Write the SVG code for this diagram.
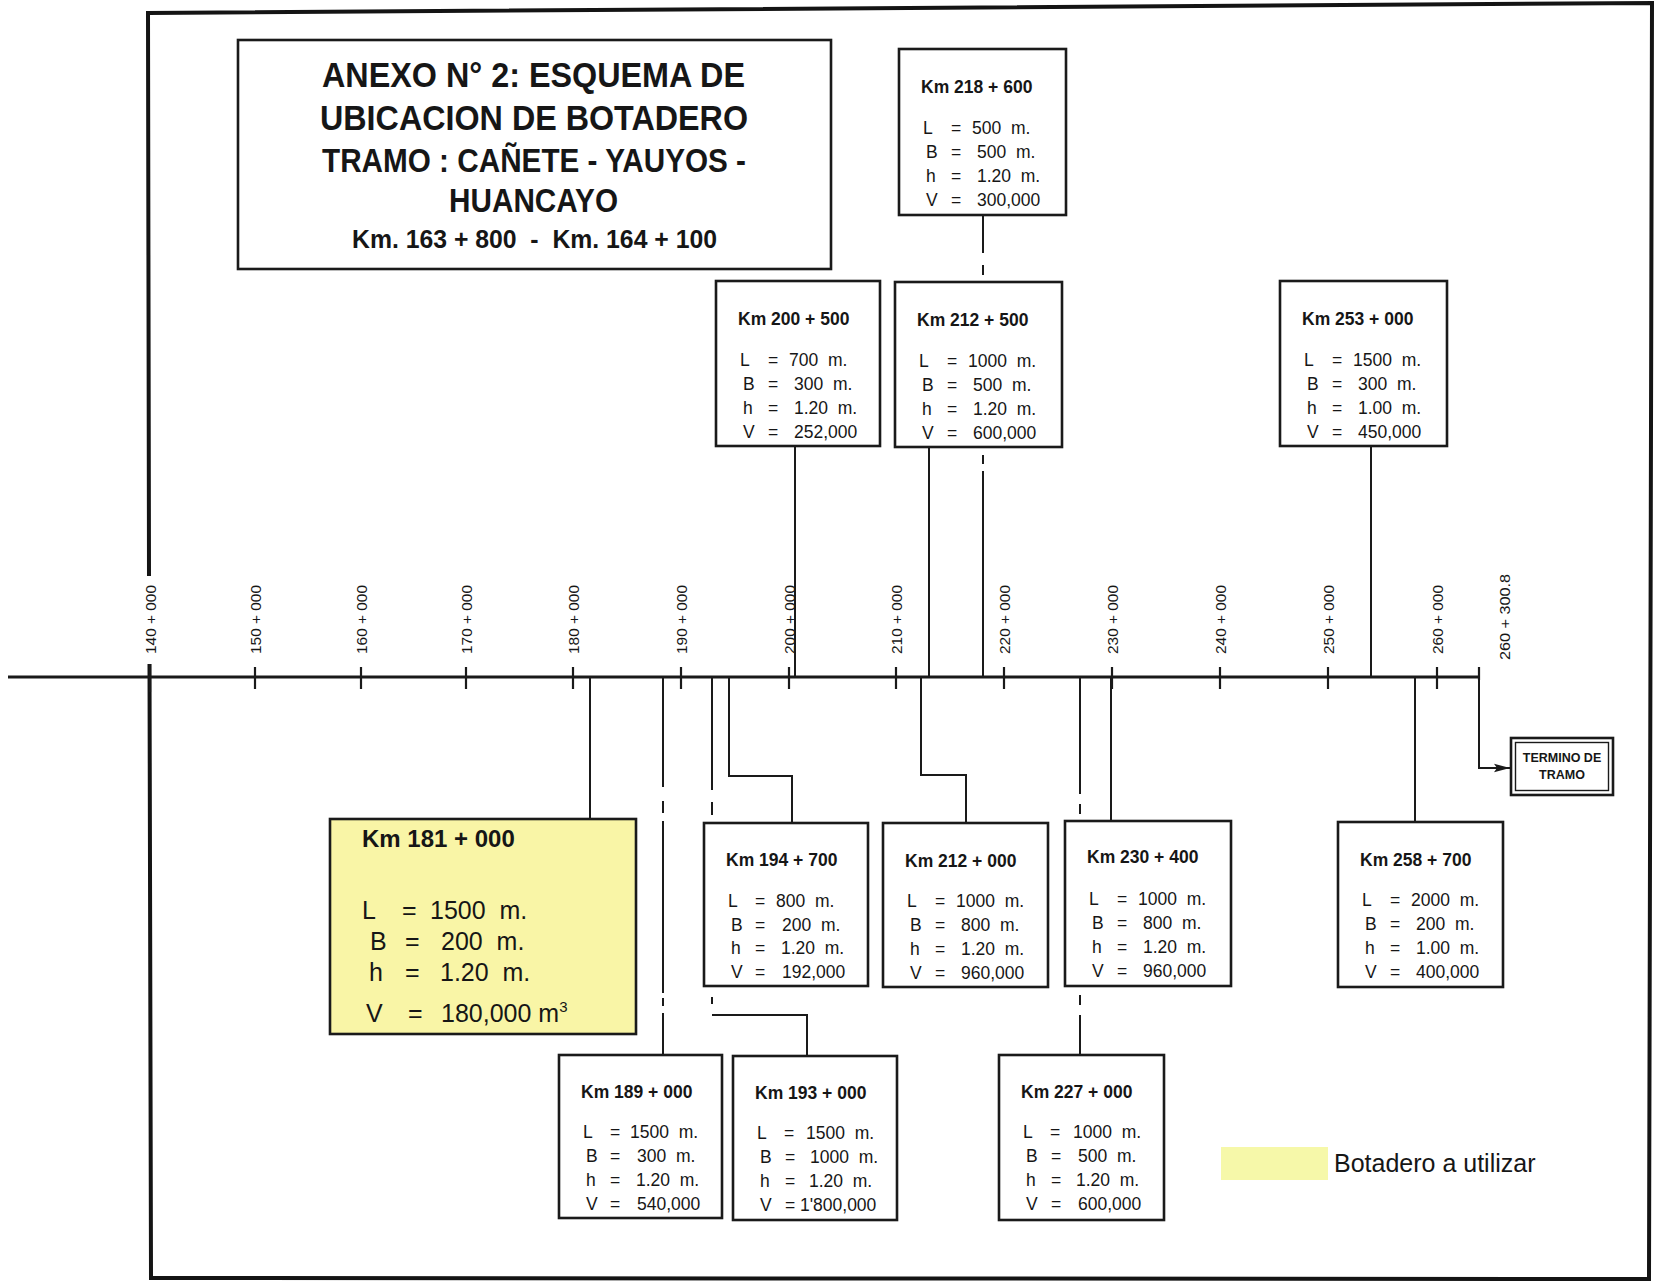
<svg xmlns="http://www.w3.org/2000/svg" width="1657" height="1288" viewBox="0 0 1657 1288">
  <style>
    text { font-family: "Liberation Sans", Arial, sans-serif; fill: #161616; }
    .frame { fill: none; stroke: #141414; stroke-width: 4; stroke-linejoin: miter; }
    .axis { stroke: #1a1a1a; stroke-width: 3; }
    .tick { stroke: #1a1a1a; stroke-width: 2.2; }
    .link { fill: none; stroke: #1a1a1a; stroke-width: 2; }
    .box { fill: #ffffff; stroke: #1a1a1a; stroke-width: 2.6; }
    .hl { fill: #f9f5a6; }
    .head { font-weight: bold; }
    .lbl { font-size: 15.5px; }
    .ttl { font-size: 17.5px; font-weight: bold; }
    .row { font-size: 17.5px; }
    .big { font-size: 25px; }
    .bigttl { font-size: 24px; font-weight: bold; }
  </style>
  <defs>
    <marker id="arrow" markerUnits="userSpaceOnUse" markerWidth="18" markerHeight="10" refX="16" refY="5" orient="auto">
      <path d="M0,0.8 L16,5 L0,9.2 L3,5 Z" fill="#1a1a1a"/>
    </marker>
  </defs>

  <rect width="1657" height="1288" fill="#ffffff"/>

  <!-- sheet border, broken on the left where the 140 + 000 label sits -->
  <path class="frame" d="M149.5,664 L151,1278 L1649,1279 L1652,3 L148,13 L149,576"/>

  <!-- title block -->
  <g id="title">
    <rect x="238" y="40" width="593" height="229" fill="none" stroke="#1a1a1a" stroke-width="2.6"/>
    <text class="head" x="322" y="87" font-size="35" textLength="423" lengthAdjust="spacingAndGlyphs">ANEXO N° 2: ESQUEMA DE</text>
    <text class="head" x="320" y="130" font-size="35" textLength="428" lengthAdjust="spacingAndGlyphs">UBICACION DE BOTADERO</text>
    <text class="head" x="322" y="172" font-size="33" textLength="424" lengthAdjust="spacingAndGlyphs">TRAMO : CAÑETE - YAUYOS -</text>
    <text class="head" x="449" y="212" font-size="33" textLength="169" lengthAdjust="spacingAndGlyphs">HUANCAYO</text>
    <text class="head" x="352" y="248" font-size="26" textLength="365" lengthAdjust="spacingAndGlyphs" xml:space="preserve">Km. 163 + 800  -  Km. 164 + 100</text>
  </g>

  <!-- kilometre axis -->
  <g id="axis">
    <line class="axis" x1="8" y1="677" x2="1479" y2="677"/>
    <line class="tick" x1="150" y1="664" x2="150" y2="692" stroke-width="4"/>
    <line class="tick" x1="255" y1="667" x2="255" y2="689"/>
    <line class="tick" x1="361" y1="667" x2="361" y2="689"/>
    <line class="tick" x1="466" y1="667" x2="466" y2="689"/>
    <line class="tick" x1="573" y1="667" x2="573" y2="689"/>
    <line class="tick" x1="681" y1="667" x2="681" y2="689"/>
    <line class="tick" x1="789" y1="667" x2="789" y2="689"/>
    <line class="tick" x1="896" y1="667" x2="896" y2="689"/>
    <line class="tick" x1="1004" y1="667" x2="1004" y2="689"/>
    <line class="tick" x1="1112" y1="667" x2="1112" y2="689"/>
    <line class="tick" x1="1220" y1="667" x2="1220" y2="689"/>
    <line class="tick" x1="1328" y1="667" x2="1328" y2="689"/>
    <line class="tick" x1="1437" y1="667" x2="1437" y2="689"/>
    <line class="tick" x1="1479" y1="667" x2="1479" y2="680"/>
    <text class="lbl" transform="translate(156,654) rotate(-90)" textLength="69" lengthAdjust="spacingAndGlyphs">140 + 000</text>
    <text class="lbl" transform="translate(261,654) rotate(-90)" textLength="69" lengthAdjust="spacingAndGlyphs">150 + 000</text>
    <text class="lbl" transform="translate(367,654) rotate(-90)" textLength="69" lengthAdjust="spacingAndGlyphs">160 + 000</text>
    <text class="lbl" transform="translate(472,654) rotate(-90)" textLength="69" lengthAdjust="spacingAndGlyphs">170 + 000</text>
    <text class="lbl" transform="translate(579,654) rotate(-90)" textLength="69" lengthAdjust="spacingAndGlyphs">180 + 000</text>
    <text class="lbl" transform="translate(687,654) rotate(-90)" textLength="69" lengthAdjust="spacingAndGlyphs">190 + 000</text>
    <text class="lbl" transform="translate(795,654) rotate(-90)" textLength="69" lengthAdjust="spacingAndGlyphs">200 + 000</text>
    <text class="lbl" transform="translate(902,654) rotate(-90)" textLength="69" lengthAdjust="spacingAndGlyphs">210 + 000</text>
    <text class="lbl" transform="translate(1010,654) rotate(-90)" textLength="69" lengthAdjust="spacingAndGlyphs">220 + 000</text>
    <text class="lbl" transform="translate(1118,654) rotate(-90)" textLength="69" lengthAdjust="spacingAndGlyphs">230 + 000</text>
    <text class="lbl" transform="translate(1226,654) rotate(-90)" textLength="69" lengthAdjust="spacingAndGlyphs">240 + 000</text>
    <text class="lbl" transform="translate(1334,654) rotate(-90)" textLength="69" lengthAdjust="spacingAndGlyphs">250 + 000</text>
    <text class="lbl" transform="translate(1443,654) rotate(-90)" textLength="69" lengthAdjust="spacingAndGlyphs">260 + 000</text>
    <text class="lbl" transform="translate(1510,660) rotate(-90)" textLength="86" lengthAdjust="spacingAndGlyphs">260 + 300.8</text>
  </g>

  <!-- leader lines from the axis to each dump site -->
  <g id="connectors">
    <path class="link" d="M795,446 V677"/>
    <path class="link" d="M929,447 V677"/>
    <path class="link" d="M983,215 V253 M983,265 V275 M983,455 V464 M983,471 V677"/>
    <path class="link" d="M1371,446 V677"/>
    <path class="link" d="M590,677 V819"/>
    <path class="link" d="M663,677 V787 M663,801 V813 M663,821 V993 M663,998 V1006 M663,1013 V1055"/>
    <path class="link" d="M712,677 V790 M712,802 V815 M712,997 V1004 M712,1015 H807 V1056"/>
    <path class="link" d="M729,677 V776 H792 V823"/>
    <path class="link" d="M921,677 V775 H966 V823"/>
    <path class="link" d="M1080,677 V794 M1080,804 V814 M1080,995 V1005 M1080,1015 V1055"/>
    <path class="link" d="M1111,677 V821"/>
    <path class="link" d="M1415,677 V822"/>
    <path class="link" d="M1479,677 V768 H1510" marker-end="url(#arrow)"/>
  </g>

  <!-- dump sites above the axis -->
  <g id="km218600" transform="translate(899,49)">
    <rect class="box" width="167" height="166"/>
    <text class="ttl" x="22" y="44">Km 218 + 600</text>
    <text class="row" y="85" xml:space="preserve"><tspan x="24">L</tspan><tspan x="52">=</tspan><tspan x="73">500  m.</tspan></text>
    <text class="row" y="109" xml:space="preserve"><tspan x="27">B</tspan><tspan x="52">=</tspan><tspan x="78">500  m.</tspan></text>
    <text class="row" y="133" xml:space="preserve"><tspan x="27">h</tspan><tspan x="52">=</tspan><tspan x="78">1.20  m.</tspan></text>
    <text class="row" y="157" xml:space="preserve"><tspan x="27">V</tspan><tspan x="52">=</tspan><tspan x="78">300,000</tspan></text>
  </g>

  <g id="km200500" transform="translate(716,281)">
    <rect class="box" width="164" height="165"/>
    <text class="ttl" x="22" y="44">Km 200 + 500</text>
    <text class="row" y="85" xml:space="preserve"><tspan x="24">L</tspan><tspan x="52">=</tspan><tspan x="73">700  m.</tspan></text>
    <text class="row" y="109" xml:space="preserve"><tspan x="27">B</tspan><tspan x="52">=</tspan><tspan x="78">300  m.</tspan></text>
    <text class="row" y="133" xml:space="preserve"><tspan x="27">h</tspan><tspan x="52">=</tspan><tspan x="78">1.20  m.</tspan></text>
    <text class="row" y="157" xml:space="preserve"><tspan x="27">V</tspan><tspan x="52">=</tspan><tspan x="78">252,000</tspan></text>
  </g>

  <g id="km212500" transform="translate(895,282)">
    <rect class="box" width="167" height="165"/>
    <text class="ttl" x="22" y="44">Km 212 + 500</text>
    <text class="row" y="85" xml:space="preserve"><tspan x="24">L</tspan><tspan x="52">=</tspan><tspan x="73">1000  m.</tspan></text>
    <text class="row" y="109" xml:space="preserve"><tspan x="27">B</tspan><tspan x="52">=</tspan><tspan x="78">500  m.</tspan></text>
    <text class="row" y="133" xml:space="preserve"><tspan x="27">h</tspan><tspan x="52">=</tspan><tspan x="78">1.20  m.</tspan></text>
    <text class="row" y="157" xml:space="preserve"><tspan x="27">V</tspan><tspan x="52">=</tspan><tspan x="78">600,000</tspan></text>
  </g>

  <g id="km253000" transform="translate(1280,281)">
    <rect class="box" width="167" height="165"/>
    <text class="ttl" x="22" y="44">Km 253 + 000</text>
    <text class="row" y="85" xml:space="preserve"><tspan x="24">L</tspan><tspan x="52">=</tspan><tspan x="73">1500  m.</tspan></text>
    <text class="row" y="109" xml:space="preserve"><tspan x="27">B</tspan><tspan x="52">=</tspan><tspan x="78">300  m.</tspan></text>
    <text class="row" y="133" xml:space="preserve"><tspan x="27">h</tspan><tspan x="52">=</tspan><tspan x="78">1.00  m.</tspan></text>
    <text class="row" y="157" xml:space="preserve"><tspan x="27">V</tspan><tspan x="52">=</tspan><tspan x="78">450,000</tspan></text>
  </g>

  <!-- dump sites below the axis -->
  <g id="km181000" transform="translate(330,819)">
    <rect class="box hl" width="306" height="215"/>
    <text class="bigttl" x="32" y="28">Km 181 + 000</text>
    <text class="big" y="100" xml:space="preserve"><tspan x="32">L</tspan><tspan x="72">=</tspan><tspan x="100">1500  m.</tspan></text>
    <text class="big" y="131" xml:space="preserve"><tspan x="40">B</tspan><tspan x="75">=</tspan><tspan x="111">200  m.</tspan></text>
    <text class="big" y="162" xml:space="preserve"><tspan x="39">h</tspan><tspan x="75">=</tspan><tspan x="110">1.20  m.</tspan></text>
    <text class="big" y="203" xml:space="preserve"><tspan x="36">V</tspan><tspan x="78">=</tspan><tspan x="111">180,000 m</tspan><tspan font-size="15" dy="-10">3</tspan></text>
  </g>

  <g id="km194700" transform="translate(704,823)">
    <rect class="box" width="164" height="163"/>
    <text class="ttl" x="22" y="43">Km 194 + 700</text>
    <text class="row" y="84" xml:space="preserve"><tspan x="24">L</tspan><tspan x="51">=</tspan><tspan x="72">800  m.</tspan></text>
    <text class="row" y="108" xml:space="preserve"><tspan x="27">B</tspan><tspan x="51">=</tspan><tspan x="78">200  m.</tspan></text>
    <text class="row" y="131" xml:space="preserve"><tspan x="27">h</tspan><tspan x="51">=</tspan><tspan x="77">1.20  m.</tspan></text>
    <text class="row" y="155" xml:space="preserve"><tspan x="27">V</tspan><tspan x="51">=</tspan><tspan x="78">192,000</tspan></text>
  </g>

  <g id="km212000" transform="translate(883,823)">
    <rect class="box" width="165" height="164"/>
    <text class="ttl" x="22" y="44">Km 212 + 000</text>
    <text class="row" y="84" xml:space="preserve"><tspan x="24">L</tspan><tspan x="52">=</tspan><tspan x="73">1000  m.</tspan></text>
    <text class="row" y="108" xml:space="preserve"><tspan x="27">B</tspan><tspan x="52">=</tspan><tspan x="78">800  m.</tspan></text>
    <text class="row" y="132" xml:space="preserve"><tspan x="27">h</tspan><tspan x="52">=</tspan><tspan x="78">1.20  m.</tspan></text>
    <text class="row" y="156" xml:space="preserve"><tspan x="27">V</tspan><tspan x="52">=</tspan><tspan x="78">960,000</tspan></text>
  </g>

  <g id="km230400" transform="translate(1065,821)">
    <rect class="box" width="166" height="165"/>
    <text class="ttl" x="22" y="42">Km 230 + 400</text>
    <text class="row" y="84" xml:space="preserve"><tspan x="24">L</tspan><tspan x="52">=</tspan><tspan x="73">1000  m.</tspan></text>
    <text class="row" y="108" xml:space="preserve"><tspan x="27">B</tspan><tspan x="52">=</tspan><tspan x="78">800  m.</tspan></text>
    <text class="row" y="132" xml:space="preserve"><tspan x="27">h</tspan><tspan x="52">=</tspan><tspan x="78">1.20  m.</tspan></text>
    <text class="row" y="156" xml:space="preserve"><tspan x="27">V</tspan><tspan x="52">=</tspan><tspan x="78">960,000</tspan></text>
  </g>

  <g id="km258700" transform="translate(1338,822)">
    <rect class="box" width="165" height="165"/>
    <text class="ttl" x="22" y="44">Km 258 + 700</text>
    <text class="row" y="84" xml:space="preserve"><tspan x="24">L</tspan><tspan x="52">=</tspan><tspan x="73">2000  m.</tspan></text>
    <text class="row" y="108" xml:space="preserve"><tspan x="27">B</tspan><tspan x="52">=</tspan><tspan x="78">200  m.</tspan></text>
    <text class="row" y="132" xml:space="preserve"><tspan x="27">h</tspan><tspan x="52">=</tspan><tspan x="78">1.00  m.</tspan></text>
    <text class="row" y="156" xml:space="preserve"><tspan x="27">V</tspan><tspan x="52">=</tspan><tspan x="78">400,000</tspan></text>
  </g>

  <g id="km189000" transform="translate(559,1055)">
    <rect class="box" width="163" height="163"/>
    <text class="ttl" x="22" y="43">Km 189 + 000</text>
    <text class="row" y="83" xml:space="preserve"><tspan x="24">L</tspan><tspan x="51">=</tspan><tspan x="71">1500  m.</tspan></text>
    <text class="row" y="107" xml:space="preserve"><tspan x="27">B</tspan><tspan x="51">=</tspan><tspan x="78">300  m.</tspan></text>
    <text class="row" y="131" xml:space="preserve"><tspan x="27">h</tspan><tspan x="51">=</tspan><tspan x="77">1.20  m.</tspan></text>
    <text class="row" y="155" xml:space="preserve"><tspan x="27">V</tspan><tspan x="51">=</tspan><tspan x="78">540,000</tspan></text>
  </g>

  <g id="km193000" transform="translate(733,1056)">
    <rect class="box" width="164" height="164"/>
    <text class="ttl" x="22" y="43">Km 193 + 000</text>
    <text class="row" y="83" xml:space="preserve"><tspan x="24">L</tspan><tspan x="51">=</tspan><tspan x="73">1500  m.</tspan></text>
    <text class="row" y="107" xml:space="preserve"><tspan x="27">B</tspan><tspan x="52">=</tspan><tspan x="77">1000  m.</tspan></text>
    <text class="row" y="131" xml:space="preserve"><tspan x="27">h</tspan><tspan x="52">=</tspan><tspan x="76">1.20  m.</tspan></text>
    <text class="row" y="155" xml:space="preserve"><tspan x="27">V</tspan><tspan x="52">=</tspan><tspan x="67">1'800,000</tspan></text>
  </g>

  <g id="km227000" transform="translate(999,1055)">
    <rect class="box" width="165" height="165"/>
    <text class="ttl" x="22" y="43">Km 227 + 000</text>
    <text class="row" y="83" xml:space="preserve"><tspan x="24">L</tspan><tspan x="51">=</tspan><tspan x="74">1000  m.</tspan></text>
    <text class="row" y="107" xml:space="preserve"><tspan x="27">B</tspan><tspan x="52">=</tspan><tspan x="79">500  m.</tspan></text>
    <text class="row" y="131" xml:space="preserve"><tspan x="27">h</tspan><tspan x="52">=</tspan><tspan x="77">1.20  m.</tspan></text>
    <text class="row" y="155" xml:space="preserve"><tspan x="27">V</tspan><tspan x="52">=</tspan><tspan x="79">600,000</tspan></text>
  </g>

  <!-- end of section -->
  <g id="termino">
    <rect x="1511" y="738" width="102" height="57" fill="#ffffff" stroke="#1a1a1a" stroke-width="2.6"/>
    <rect x="1515.5" y="742.5" width="93" height="48" fill="none" stroke="#1a1a1a" stroke-width="1.4"/>
    <text class="head" x="1562" y="762" font-size="12.5" text-anchor="middle">TERMINO DE</text>
    <text class="head" x="1562" y="779" font-size="12.5" text-anchor="middle">TRAMO</text>
  </g>

  <!-- legend -->
  <g id="legend">
    <rect x="1221" y="1147" width="107" height="33" fill="#f6f8a9"/>
    <text x="1334" y="1172" font-size="25">Botadero a utilizar</text>
  </g>
</svg>
